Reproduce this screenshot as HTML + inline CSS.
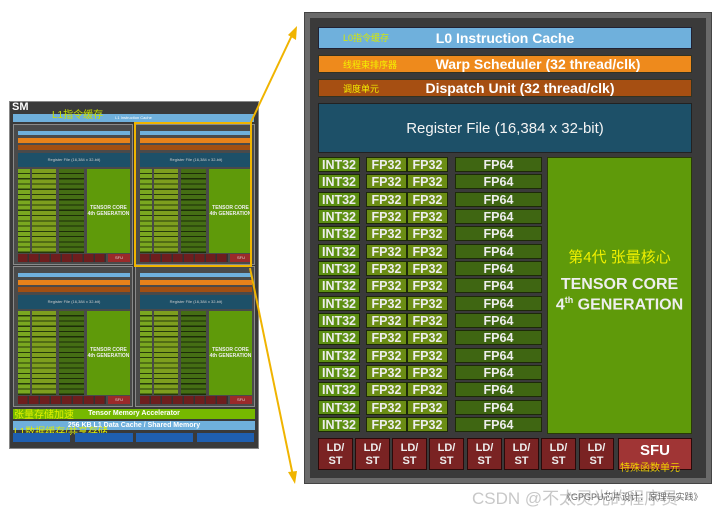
<!DOCTYPE html>
<html><head><meta charset="utf-8"><style>
*{margin:0;padding:0;box-sizing:border-box}
body{width:720px;height:513px;background:#fff;position:relative;overflow:hidden;font-family:"Liberation Sans","Noto Sans CJK SC",sans-serif}
.a{position:absolute}
.t{color:#fff;font-weight:bold;text-align:center;white-space:nowrap}
.cn{color:#e8e800;font-weight:normal}
.col{position:absolute;display:flex;flex-direction:column;gap:2.33px}
.col div{height:15px;line-height:15px;color:#eee;font-weight:bold;font-size:12.5px;text-align:center;border:1px solid #1d2a08}
.int div{background:#5c8f12}
.fp div{background:#6b8d14}
.f64 div{background:#3f6612}
.ld{position:absolute;top:438px;width:35px;height:32px;background:#7a2323;border:1px solid #2a0a0a;color:#eee;font-weight:bold;font-size:11px;text-align:center;line-height:13px;padding-top:3px}
.sb{position:absolute;width:120px;height:141px;background:#4a4a4a;border:1px solid #8a8a8a}
.sb div{position:absolute}
.sb .l0{left:4px;top:6px;width:112px;height:4px;background:#6fb0dc}
.sb .ws{left:4px;top:13px;width:112px;height:5px;background:#e8821a}
.sb .du{left:4px;top:20px;width:112px;height:5px;background:#a24f12}
.sb .rf{left:4px;top:28px;width:112px;height:14px;background:#1d5068;color:#ccc;font-size:4px;text-align:center;line-height:14px}
.sb .gi{left:4px;top:44px;width:12px;height:84px;background:repeating-linear-gradient(#7aa820 0 4px,#263a0a 4px 5.25px)}
.sb .gf{left:18px;top:44px;width:24px;height:84px;background:repeating-linear-gradient(#7e9e1e 0 4px,#263a0a 4px 5.25px)}
.sb .g6{left:45px;top:44px;width:25px;height:84px;background:repeating-linear-gradient(#456e14 0 4px,#1c2c08 4px 5.25px)}
.sb .tc{left:73px;top:44px;width:43px;height:84px;background:#5f9a0a;color:#eee;font-size:5px;font-weight:bold;text-align:center;padding-top:36px;line-height:6px}
.sb .lds{left:4px;top:129px;width:88px;height:8px;background:repeating-linear-gradient(90deg,#6e1e1e 0 9.5px,#333 9.5px 11px)}
.sb .sf{left:94px;top:129px;width:22px;height:8px;background:#9b2a2a;color:#ddd;font-size:4px;text-align:center;line-height:8px}
</style></head><body>

<div class="a" style="left:9px;top:101px;width:250px;height:348px;background:#3a3a3a;border:1px solid #888"></div>
<div class="a t" style="left:12px;top:101px;font-size:11px">SM</div>
<div class="a" style="left:13px;top:114px;width:241px;height:8px;background:#6fb0dc;font-size:4px;color:#fff;text-align:center;line-height:8px">L1 Instruction Cache</div>
<div class="a cn" style="left:52px;top:106px;font-size:10px;color:#c8e000">L1指令缓存</div>

<div class="sb" style="left:13px;top:124px"><div class="l0"></div><div class="ws"></div><div class="du"></div><div class="rf">Register File (16,384 x 32-bit)</div><div class="gi"></div><div class="gf"></div><div class="g6"></div><div class="tc">TENSOR CORE<br>4th GENERATION</div><div class="lds"></div><div class="sf">SFU</div></div>
<div class="sb" style="left:135px;top:124px"><div class="l0"></div><div class="ws"></div><div class="du"></div><div class="rf">Register File (16,384 x 32-bit)</div><div class="gi"></div><div class="gf"></div><div class="g6"></div><div class="tc">TENSOR CORE<br>4th GENERATION</div><div class="lds"></div><div class="sf">SFU</div></div>
<div class="sb" style="left:13px;top:266px"><div class="l0"></div><div class="ws"></div><div class="du"></div><div class="rf">Register File (16,384 x 32-bit)</div><div class="gi"></div><div class="gf"></div><div class="g6"></div><div class="tc">TENSOR CORE<br>4th GENERATION</div><div class="lds"></div><div class="sf">SFU</div></div>
<div class="sb" style="left:135px;top:266px"><div class="l0"></div><div class="ws"></div><div class="du"></div><div class="rf">Register File (16,384 x 32-bit)</div><div class="gi"></div><div class="gf"></div><div class="g6"></div><div class="tc">TENSOR CORE<br>4th GENERATION</div><div class="lds"></div><div class="sf">SFU</div></div>
<div class="a" style="left:134px;top:122px;width:118px;height:145px;border:2px solid #f0b400"></div>

<div class="a t" style="left:13px;top:409px;width:242px;height:10px;background:#76b900;font-size:7px;line-height:10px">Tensor Memory Accelerator</div>
<div class="a cn" style="left:14px;top:406px;font-size:10px;color:#e0f000">张量存储加速</div>
<div class="a t" style="left:13px;top:421px;width:242px;height:9px;background:#6fb0dc;font-size:7px;line-height:9px">256 KB L1 Data Cache / Shared Memory</div>
<div class="a cn" style="left:14px;top:423px;font-size:10px;color:#e0f000">L1数据缓存/共享存储</div>
<div class="a" style="left:13px;top:433px;width:57px;height:9px;background:#1f5fb0"></div>
<div class="a" style="left:75px;top:433px;width:58px;height:9px;background:#1f5fb0"></div>
<div class="a" style="left:136px;top:433px;width:57px;height:9px;background:#1f5fb0"></div>
<div class="a" style="left:197px;top:433px;width:57px;height:9px;background:#1f5fb0"></div>

<svg class="a" style="left:0;top:0" width="720" height="513">
<line x1="250" y1="124" x2="293" y2="33" stroke="#f0b400" stroke-width="2"/>
<polygon points="297,26 296,40 288,35" fill="#f0b400"/>
<line x1="250" y1="268" x2="293" y2="476" stroke="#f0b400" stroke-width="2"/>
<polygon points="295,484 288,472 297,471" fill="#f0b400"/>
</svg>

<div class="a" style="left:304px;top:12px;width:408px;height:472px;background:#6a6a6a;border:1px solid #444"></div>
<div class="a" style="left:310px;top:18px;width:396px;height:460px;background:#3a3a3a"></div>
<div class="a t" style="left:318px;top:27px;width:374px;height:22px;background:#6fb0dc;border:1px solid #223;font-size:14px;line-height:21px">L0 Instruction Cache</div>
<div class="a cn" style="left:343px;top:31px;font-size:9px;color:#d8e800">L0指令缓存</div>
<div class="a t" style="left:318px;top:55px;width:374px;height:18px;background:#ee8a1c;border:1px solid #332;font-size:14px;line-height:17px;padding-left:66px">Warp Scheduler (32 thread/clk)</div>
<div class="a cn" style="left:343px;top:58px;font-size:9px;color:#f4f000">线程束排序器</div>
<div class="a t" style="left:318px;top:79px;width:374px;height:18px;background:#a64f12;border:1px solid #332;font-size:14px;line-height:17px;padding-left:30px">Dispatch Unit (32 thread/clk)</div>
<div class="a cn" style="left:343px;top:82px;font-size:9px;color:#f4f000">调度单元</div>
<div class="a" style="left:318px;top:103px;width:374px;height:50px;background:#1d5068;border:1px solid #222;font-size:15px;line-height:49px;color:#f4f4f4;text-align:center">Register File (16,384 x 32-bit)</div>

<div class="col int" style="left:318px;top:157px;width:42px"><div>INT32</div><div>INT32</div><div>INT32</div><div>INT32</div><div>INT32</div><div>INT32</div><div>INT32</div><div>INT32</div><div>INT32</div><div>INT32</div><div>INT32</div><div>INT32</div><div>INT32</div><div>INT32</div><div>INT32</div><div>INT32</div></div>
<div class="col fp" style="left:366px;top:157px;width:41px"><div>FP32</div><div>FP32</div><div>FP32</div><div>FP32</div><div>FP32</div><div>FP32</div><div>FP32</div><div>FP32</div><div>FP32</div><div>FP32</div><div>FP32</div><div>FP32</div><div>FP32</div><div>FP32</div><div>FP32</div><div>FP32</div></div>
<div class="col fp" style="left:407px;top:157px;width:41px"><div>FP32</div><div>FP32</div><div>FP32</div><div>FP32</div><div>FP32</div><div>FP32</div><div>FP32</div><div>FP32</div><div>FP32</div><div>FP32</div><div>FP32</div><div>FP32</div><div>FP32</div><div>FP32</div><div>FP32</div><div>FP32</div></div>
<div class="col f64" style="left:455px;top:157px;width:87px"><div>FP64</div><div>FP64</div><div>FP64</div><div>FP64</div><div>FP64</div><div>FP64</div><div>FP64</div><div>FP64</div><div>FP64</div><div>FP64</div><div>FP64</div><div>FP64</div><div>FP64</div><div>FP64</div><div>FP64</div><div>FP64</div></div>

<div class="a" style="left:547px;top:157px;width:145px;height:277px;background:#5f9a0a;border:1px solid #2a3a08"></div>
<div class="a cn" style="left:547px;top:246px;width:145px;text-align:center;font-size:15px;color:#f0f000">第4代 张量核心</div>
<div class="a t" style="left:547px;top:276px;width:145px;font-size:16px;color:#eee">TENSOR CORE</div>
<div class="a t" style="left:547px;top:295px;width:145px;font-size:16px;color:#eee">4<sup style="font-size:9px">th</sup> GENERATION</div>

<div class="ld" style="left:318px">LD/<br>ST</div>
<div class="ld" style="left:355px">LD/<br>ST</div>
<div class="ld" style="left:392px">LD/<br>ST</div>
<div class="ld" style="left:429px">LD/<br>ST</div>
<div class="ld" style="left:467px">LD/<br>ST</div>
<div class="ld" style="left:504px">LD/<br>ST</div>
<div class="ld" style="left:541px">LD/<br>ST</div>
<div class="ld" style="left:579px">LD/<br>ST</div>
<div class="a t" style="left:618px;top:438px;width:74px;height:32px;background:#a03535;border:1px solid #2a0a0a;font-size:15px;line-height:20px;padding-top:2px">SFU</div>
<div class="a cn" style="left:620px;top:459px;font-size:10px;color:#f0d000">特殊函数单元</div>

<div class="a" style="left:472px;top:484px;font-size:17px;color:#c8c8c8;white-space:nowrap">CSDN @不太灵光的程序员</div>
<div class="a" style="left:562px;top:490px;font-size:9px;color:#666;white-space:nowrap">《GPGPU芯片设计：原理与实践》</div>
</body></html>
